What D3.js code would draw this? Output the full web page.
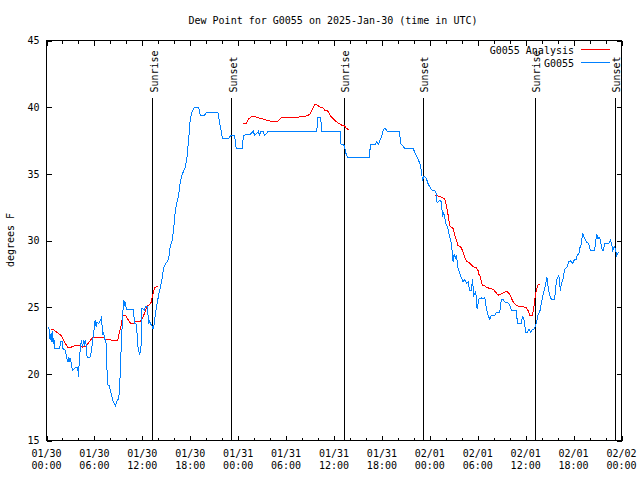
<!DOCTYPE html>
<html><head><meta charset="utf-8">
<script src="https://cdn.jsdelivr.net/npm/d3@7"></script>
<style>
html,body{margin:0;padding:0;background:#fff;}
svg{display:block;}
text{font-family:"DejaVu Sans Mono","Liberation Mono",monospace;font-size:10px;fill:#000;}
</style></head><body>
<svg id="c" width="640" height="480"></svg>
<script>
const titleText = "Dew Point for G0055 on 2025-Jan-30 (time in UTC)";
const yAxisTitle = "degrees F";
const startTime = "2025-01-30T00:00:00Z";
const endTime = "2025-02-02T00:00:00Z";
const yTicks = [15, 20, 25, 30, 35, 40, 45];
const seriesNames = ["G0055 Analysis", "G0055"];
const seriesColors = ["#ff0000", "#0080ff"];

// hours since start / dew point (F)
const stationHours = [0.29,0.41,0.5,0.59,0.71,0.84,0.91,1.04,1.66,1.75,1.96,2.04,2.38,2.5,2.71,2.79,2.91,3.0,3.13,3.29,3.5,3.71,3.91,4.0,4.13,4.25,4.38,4.5,4.66,4.79,4.91,5.09,5.41,5.59,5.79,5.91,6.09,6.21,6.34,6.54,6.75,6.91,7.0,7.16,7.29,7.41,7.5,7.59,7.71,7.91,8.0,8.13,8.29,8.5,8.63,8.84,9.04,9.16,9.34,9.5,9.66,9.79,9.91,10.0,10.91,11.0,11.21,11.34,11.46,11.66,11.79,11.88,11.96,12.25,12.38,12.59,12.66,12.79,12.91,13.0,13.21,13.34,13.5,13.63,13.84,14.04,14.25,14.46,14.66,14.88,15.09,15.29,15.5,15.71,15.91,16.13,16.34,16.54,16.75,16.96,17.16,17.38,17.59,17.79,18.0,18.21,18.5,19.04,19.25,19.79,20.0,21.46,21.75,22.04,22.79,23.09,23.54,23.75,24.5,24.66,25.5,25.71,25.91,26.04,26.34,26.54,26.66,26.84,27.09,27.29,27.59,27.71,33.84,33.96,34.34,34.46,36.75,36.88,37.29,37.46,37.71,40.38,40.59,41.13,41.34,41.54,41.75,41.96,42.16,42.38,42.66,44.16,44.38,44.88,45.91,46.13,46.54,46.84,47.09,47.25,47.5,47.79,48.21,48.75,48.91,49.25,49.46,49.59,49.75,50.0,50.21,50.41,50.71,50.91,51.04,51.21,51.34,51.54,51.75,52.16,52.38,52.59,52.79,53.0,53.21,53.34,53.5,53.75,53.91,54.16,54.46,54.66,54.88,55.09,55.29,55.5,55.71,56.13,56.34,56.75,56.96,57.16,57.38,57.79,58.0,58.21,58.84,58.96,59.46,59.59,59.75,60.0,60.21,60.41,60.63,60.84,61.04,61.25,61.41,61.59,61.75,61.96,62.16,62.38,62.59,62.66,62.79,63.0,63.21,63.63,63.75,63.91,64.16,64.34,64.46,64.66,64.79,64.96,65.16,65.41,65.59,65.71,65.91,66.13,66.34,66.46,66.66,66.75,66.96,67.09,67.16,67.38,67.59,67.91,68.09,68.63,68.75,68.91,69.04,69.25,69.46,69.59,69.75,69.88,70.41,70.63,70.75,70.91,71.09,71.25,71.38,71.54,71.66];
const stationValues = [23.55,22.6,23.0,22.4,23.2,22.25,22.7,21.9,21.9,22.4,22.4,21.9,21.75,21.25,20.9,21.25,20.9,21.2,20.6,20.25,20.4,20.5,20.5,19.75,21.25,22.0,22.5,22.0,22.55,22.1,22.5,21.2,21.2,21.6,22.5,23.1,24.05,23.55,23.9,23.75,24.0,24.3,22.9,23.1,22.6,22.6,22.0,20.0,19.1,19.1,18.6,18.5,18.0,17.75,17.6,18.0,18.1,19.0,21.75,24.0,25.55,25.2,25.3,24.8,24.85,23.75,23.75,23.0,22.0,21.45,21.75,22.4,24.9,24.8,25.0,25.1,24.8,23.75,24.0,23.75,23.6,23.4,23.75,24.5,25.25,25.9,26.5,27.1,27.9,28.25,28.4,28.6,29.6,29.9,30.75,32.25,32.9,33.4,34.4,34.9,35.2,35.5,36.25,37.5,39.1,39.6,40.0,40.0,39.4,39.4,39.6,39.6,38.6,37.65,37.65,37.9,37.9,36.9,36.9,37.9,37.95,38.1,38.2,37.9,38.05,38.2,37.9,38.2,38.2,37.9,38.05,38.2,38.2,39.2,39.2,38.2,38.2,37.2,37.15,36.6,36.2,36.2,37.2,37.2,37.4,37.2,37.5,37.75,38.3,38.45,38.2,38.2,37.25,36.9,36.9,36.6,36.1,35.6,34.5,34.8,34.75,34.25,33.8,33.7,32.8,33.0,32.9,31.75,32.1,31.25,31.0,30.5,29.75,28.4,29.0,28.7,28.85,27.9,27.5,26.9,27.1,26.8,26.9,26.25,26.25,27.1,25.9,26.2,24.9,25.6,25.7,25.6,25.7,24.9,24.4,24.1,24.4,24.4,24.6,24.6,25.6,25.6,25.4,25.3,25.2,24.75,24.75,23.8,23.8,24.3,24.25,23.1,23.1,23.35,23.1,23.35,23.35,23.6,24.0,24.55,24.6,25.25,25.9,26.4,27.0,27.25,26.6,25.9,25.6,25.6,26.5,27.1,27.4,26.25,26.75,27.05,27.55,27.9,28.0,28.4,28.5,28.4,28.3,28.6,28.6,28.95,29.0,29.4,29.7,30.4,30.5,30.15,29.9,29.75,29.25,29.25,29.9,30.45,30.15,30.25,29.7,29.25,29.25,29.75,29.8,30.05,29.75,29.25,29.55,29.4,28.8,29.05,29.1];

// analysis series: null marks a gap between runs
const analysisHours = [0.59,0.91,1.13,1.34,1.54,1.88,2.09,2.38,2.71,3.0,3.21,3.5,4.25,4.46,4.88,5.16,5.5,5.71,7.16,7.38,8.0,8.41,8.91,9.13,9.34,9.54,9.88,10.09,10.38,10.63,10.91,11.13,11.75,11.96,12.25,12.59,12.91,13.13,13.29,13.54,13.84,13.96,
  14.0,
  24.66,25.0,25.29,25.71,26.04,26.34,26.54,26.96,27.38,27.79,28.21,28.84,29.16,29.46,29.88,30.29,31.13,31.46,32.16,32.59,32.79,33.0,33.21,33.41,33.63,33.96,34.25,34.59,34.88,35.29,35.5,35.71,36.13,36.54,36.96,37.29,37.59,37.88,
  38.0,
  48.63,49.25,49.66,49.88,50.09,50.29,50.5,50.71,50.91,51.13,51.34,51.54,51.84,52.09,52.38,52.59,53.0,53.41,53.84,54.04,54.16,54.34,54.59,54.88,55.09,55.5,55.91,56.13,56.54,56.96,57.29,57.59,58.0,58.34,58.63,58.96,59.25,60.0,60.29,60.5,60.84,61.0,61.21,61.41,61.59,61.84];
const analysisValues = [23.3,23.3,23.2,23.1,23.0,22.85,22.6,22.25,21.95,21.95,22.05,22.1,22.1,22.0,22.05,22.25,22.5,22.7,22.7,22.6,22.55,22.5,22.5,23.1,23.6,24.4,24.4,24.2,23.9,23.75,23.75,23.9,23.95,24.1,24.5,25.05,25.2,25.4,25.9,26.45,26.55,26.55,
  null,
  38.8,38.8,39.1,39.3,39.3,39.25,39.2,39.15,39.05,39.0,38.9,38.9,39.05,39.25,39.25,39.2,39.2,39.25,39.3,39.35,39.4,39.5,39.75,40.0,40.2,40.15,40.0,39.95,39.75,39.7,39.4,39.25,39.0,38.8,38.65,38.6,38.4,38.3,
  null,
  33.4,33.3,33.2,33.1,32.6,31.9,31.1,31.0,30.9,30.4,30.0,29.6,29.55,29.25,28.75,28.45,28.3,28.05,27.95,27.75,27.45,27.25,26.6,26.6,26.5,26.4,26.35,26.2,25.9,26.0,26.1,26.2,26.0,25.5,25.25,25.1,25.05,25.0,24.75,24.4,24.4,24.9,25.9,26.45,26.7,26.7];

const eventHours = [13.29, 23.17, 37.29, 47.17, 61.17, 71.21];
const eventLabels = ["Sunrise", "Sunset", "Sunrise", "Sunset", "Sunrise", "Sunset"];

const svg = d3.select("#c");
const t0 = new Date(startTime), t1 = new Date(endTime);
const toDate = h => new Date(t0.getTime() + h * 3600e3);
const L = 46.5, R = 621.5, T = 40.5, B = 440.5;
const x = d3.scaleUtc().domain([t0, t1]).range([L, R]);
const y = d3.scaleLinear().domain([15, 45]).range([B, T]);

// title
svg.append("text").attr("x", 333).attr("y", 24).attr("text-anchor", "middle").text(titleText);
// y axis title
svg.append("text").attr("transform", "translate(13.5,240) rotate(-90)").attr("text-anchor", "middle").text(yAxisTitle);

// axes
const gAx = svg.append("g").attr("shape-rendering", "crispEdges");
function strip(g){ g.select(".domain").remove(); g.selectAll("line").attr("stroke", "#000"); }
gAx.append("g").attr("transform", `translate(0,${B})`)
  .call(d3.axisBottom(x).ticks(d3.utcHour.every(2)).tickSize(-3).tickFormat("")).call(strip);
gAx.append("g").attr("transform", `translate(0,${B})`)
  .call(d3.axisBottom(x).ticks(d3.utcHour.every(6)).tickSize(-5).tickFormat("")).call(strip);
gAx.append("g").attr("transform", `translate(0,${T})`)
  .call(d3.axisTop(x).ticks(d3.utcHour.every(2)).tickSize(-3).tickFormat("")).call(strip);
gAx.append("g").attr("transform", `translate(0,${T})`)
  .call(d3.axisTop(x).ticks(d3.utcHour.every(6)).tickSize(-5).tickFormat("")).call(strip);
const yl = gAx.append("g").attr("transform", `translate(${L},0)`)
  .call(d3.axisLeft(y).tickValues(yTicks).tickSize(-5).tickPadding(7).tickFormat(d3.format("d")));
yl.select(".domain").remove();
yl.selectAll("line").attr("stroke", "#000");
yl.selectAll("text").attr("fill", "#000").style("font-size", "10px").style("font-family", '"DejaVu Sans Mono",monospace');
yl.attr("font-size", null).attr("font-family", null);
gAx.append("g").attr("transform", `translate(${R},0)`)
  .call(d3.axisRight(y).tickValues(yTicks).tickSize(-5).tickFormat("")).call(strip);

// x tick labels (two lines)
const fmtD = d3.utcFormat("%m/%d"), fmtH = d3.utcFormat("%H:%M");
const xl = svg.append("g");
x.ticks(d3.utcHour.every(6)).forEach(d => {
  const t = xl.append("text").attr("text-anchor", "middle");
  t.append("tspan").attr("x", x(d)).attr("y", 457).text(fmtD(d));
  t.append("tspan").attr("x", x(d)).attr("y", 469).text(fmtH(d));
});

// event lines + labels
const ev = svg.append("g");
eventHours.forEach((h, i) => {
  const xx = x(toDate(h));
  ev.append("line").attr("x1", xx).attr("x2", xx).attr("y1", 98).attr("y2", B)
    .attr("stroke", "#000").attr("shape-rendering", "crispEdges");
  ev.append("text").attr("transform", `translate(${xx + 5},92.5) rotate(-90)`).text(eventLabels[i]);
});

// series
const line = d3.line().defined(d => d[1] !== null).x(d => x(toDate(d[0]))).y(d => y(d[1]));
const analysis = analysisHours.map((h, i) => [h, analysisValues[i]]);
const station = stationHours.map((h, i) => [h, stationValues[i]]);
svg.append("path").datum(analysis).attr("d", line).attr("fill", "none")
  .attr("stroke", seriesColors[0]).attr("stroke-width", 1).attr("shape-rendering", "crispEdges");
svg.append("path").datum(station).attr("d", line).attr("fill", "none")
  .attr("stroke", seriesColors[1]).attr("stroke-width", 1).attr("shape-rendering", "crispEdges");

// border
svg.append("rect").attr("x", L).attr("y", T).attr("width", R - L).attr("height", B - T)
  .attr("fill", "none").attr("stroke", "#000").attr("shape-rendering", "crispEdges");

// legend
const lg = svg.append("g");
const legY = [49.5, 62.5], legTextY = [54, 66.5];
seriesNames.forEach((n, i) => {
  lg.append("text").attr("x", 574).attr("y", legTextY[i]).attr("text-anchor", "end").text(n);
  lg.append("line").attr("x1", 581).attr("x2", 610).attr("y1", legY[i]).attr("y2", legY[i])
    .attr("stroke", seriesColors[i]).attr("shape-rendering", "crispEdges");
});
</script>
</body></html>
